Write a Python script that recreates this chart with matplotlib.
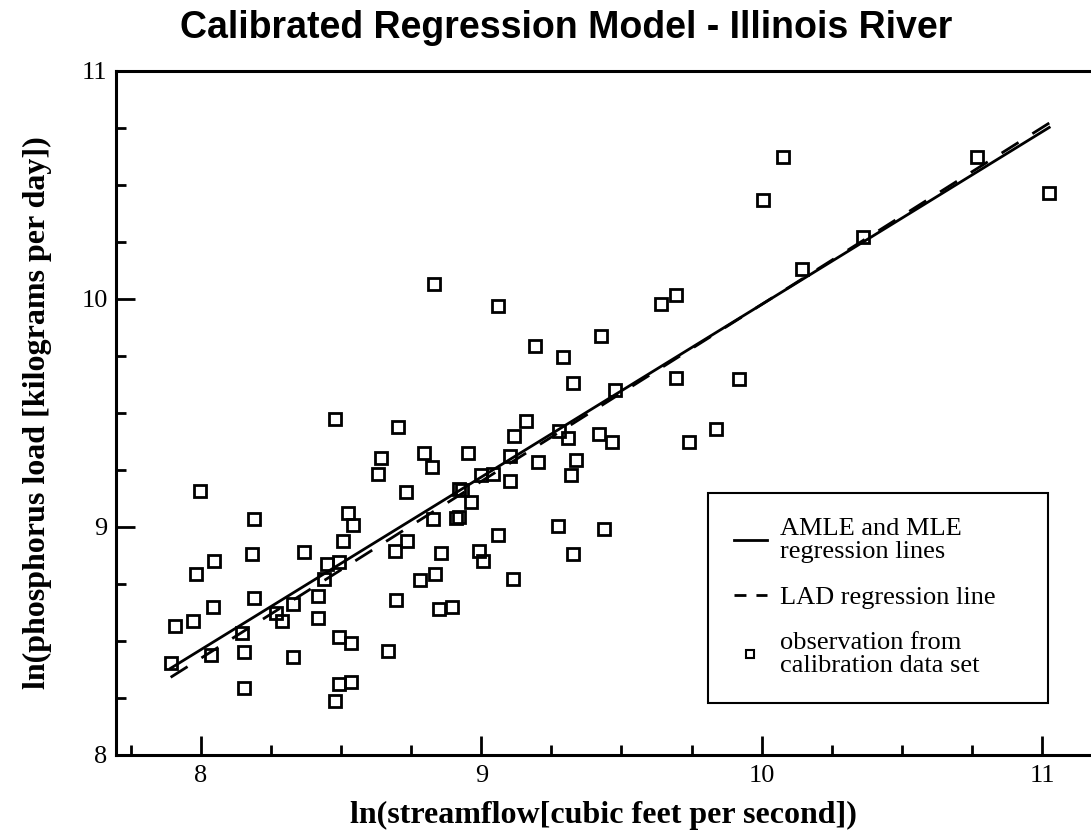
import matplotlib
matplotlib.use('Agg')
import matplotlib.pyplot as plt
from matplotlib.lines import Line2D
from matplotlib.ticker import MultipleLocator
import numpy as np

# ln(streamflow) and ln(phosphorus load)
streamflow = [8.831, 9.061, 8.479, 8.703, 8.641, 8.796, 8.953,
              8.631, 8.826, 7.996, 8.731, 8.920, 8.930, 8.962, 8.998, 9.043,
              8.189, 8.526, 8.543, 8.829, 8.910, 8.920, 9.058, 8.508, 8.734,
              8.692, 8.367, 8.182, 8.046, 7.982, 8.855, 8.993, 9.005, 8.448,
              8.493, 8.439, 8.835, 8.781, 8.419, 8.189, 8.042, 8.327, 8.696,
              8.848, 8.894, 8.268, 8.289, 8.419, 7.970, 7.907, 8.145, 8.491,
              8.534, 8.153, 8.037, 8.329, 8.668, 7.892, 8.153, 8.491, 8.536,
              8.479,
              9.640, 9.695, 9.193, 9.293, 9.428, 9.328, 9.476, 9.695, 9.918,
              9.159, 9.117, 9.276, 9.311, 9.421, 9.467, 9.742, 9.837, 9.102,
              9.204, 9.338, 9.321, 9.102, 9.275, 9.438, 9.328, 9.112,
              10.077, 10.006, 10.767, 11.026, 10.363, 10.144]
phosphorus = [10.067, 9.968, 9.472, 9.437, 9.304, 9.323, 9.323,
              9.232, 9.262, 9.157, 9.154, 9.168, 9.160, 9.110, 9.227, 9.232,
              9.034, 9.063, 9.010, 9.034, 9.038, 9.042, 8.965, 8.940, 8.940,
              8.896, 8.892, 8.880, 8.849, 8.794, 8.885, 8.896, 8.852, 8.838,
              8.845, 8.770, 8.794, 8.765, 8.697, 8.686, 8.648, 8.662, 8.680,
              8.639, 8.650, 8.624, 8.586, 8.599, 8.589, 8.566, 8.534, 8.519,
              8.490, 8.450, 8.439, 8.428, 8.457, 8.402, 8.292, 8.311, 8.322,
              8.236,
              9.978, 10.018, 9.794, 9.744, 9.836, 9.630, 9.601, 9.652, 9.648,
              9.465, 9.399, 9.421, 9.389, 9.407, 9.371, 9.370, 9.428, 9.309,
              9.284, 9.294, 9.227, 9.202, 9.004, 8.990, 8.882, 8.771,
              10.621, 10.434, 10.621, 10.463, 10.271, 10.130]

# regression lines: (intercept, slope)
amle_coef = (2.409, 0.7566)
lad_coef = (2.221, 0.7754)

legend_labels = ['AMLE and MLE\nregression lines', 'LAD regression line',
                 'observation from\ncalibration data set']

serif = 'Liberation Serif'

fig = plt.figure(figsize=(10.91, 8.31), dpi=100)
ax = fig.add_axes([0.1063, 0.0915, 0.8937, 0.8234])

xl = np.array([min(streamflow), max(streamflow)])
ax.plot(xl, lad_coef[0] + lad_coef[1] * xl, color='k', lw=2, dashes=(7.2, 5.9))
ax.plot(xl, amle_coef[0] + amle_coef[1] * xl, color='k', lw=2)
ax.plot(streamflow, phosphorus, ls='none', marker='s', ms=8, mfc='none',
        mec='k', mew=2)

ax.set_xlim(7.697, 11.175)
ax.set_ylim(8, 11)
ax.xaxis.set_major_locator(MultipleLocator(1))
ax.xaxis.set_minor_locator(MultipleLocator(0.25))
ax.yaxis.set_major_locator(MultipleLocator(1))
ax.yaxis.set_minor_locator(MultipleLocator(0.25))
ax.tick_params(which='major', direction='in', length=14, width=2, labelsize=19)
ax.tick_params(which='minor', direction='in', length=7, width=2)
ax.tick_params(axis='x', pad=7)
ax.tick_params(axis='y', pad=6)
for lab in ax.get_xticklabels() + ax.get_yticklabels():
    lab.set_fontfamily(serif)

for s in ['left', 'bottom', 'top']:
    ax.spines[s].set_linewidth(2.2)
ax.spines['right'].set_visible(False)

ax.set_xlabel('ln(streamflow[cubic feet per second])', fontsize=23,
              fontfamily=serif, fontweight='bold', va='center')
ax.xaxis.set_label_coords(0.5, -0.089)
ax.set_ylabel('ln(phosphorus load [kilograms per day])', fontsize=23,
              fontfamily=serif, fontweight='bold', va='center')
ax.yaxis.set_label_coords(-0.081, 0.5)

fig.text(566 / 1091, 1 - 38 / 831, 'Calibrated Regression Model - Illinois River',
         ha='center', va='baseline', fontsize=27, fontfamily='Liberation Sans',
         fontweight='bold')

handles = [Line2D([], [], color='k', lw=2),
           Line2D([], [], color='k', lw=2, dashes=(4.3, 3.6)),
           Line2D([], [], ls='none', marker='s', ms=6, mfc='none', mec='k', mew=1.5)]
leg = ax.legend(handles, legend_labels, loc='upper left',
                bbox_to_anchor=(0.6077, 0, 0.3477, 0.3833), mode='expand',
                borderaxespad=0, borderpad=0.95, labelspacing=0.85,
                handlelength=1.25, handletextpad=0.5, fancybox=False,
                framealpha=1, edgecolor='k', prop={'family': serif, 'size': 19})
leg.get_frame().set_linewidth(1.5)
for t in leg.get_texts():
    t.set_linespacing(1.1)

fig.savefig('out.png', dpi=100)
